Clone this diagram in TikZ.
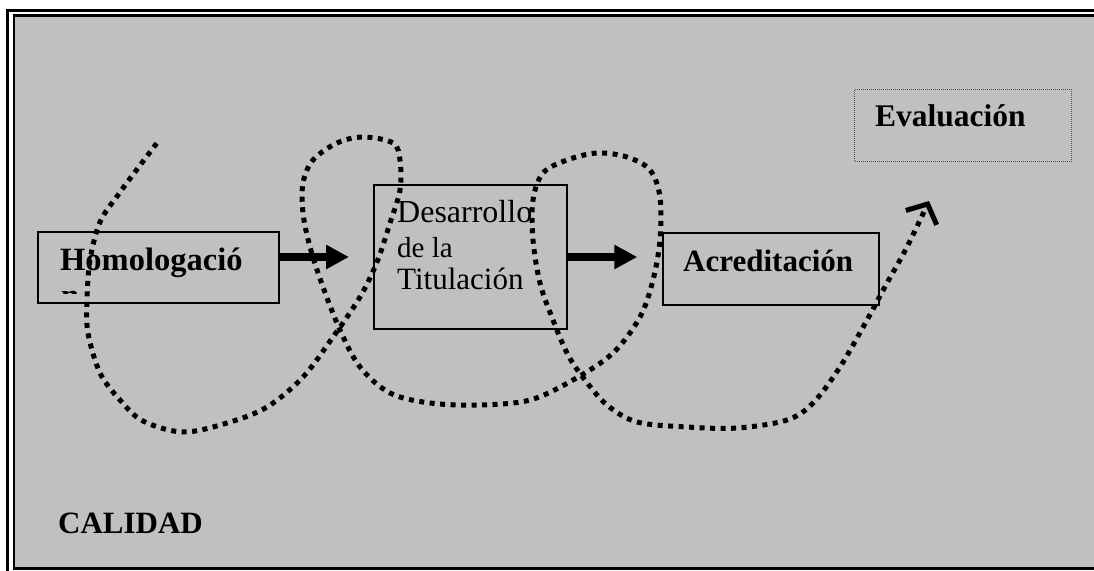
\documentclass[tikz,border=0pt]{standalone}
\usepackage{fontspec}
\setmainfont{Liberation Serif}
\usetikzlibrary{arrows.meta}
\definecolor{panelgray}{HTML}{C0C0C0}
\definecolor{dotframe}{HTML}{505050}
\tikzset{
  stagebox/.style={draw=black, line width=2pt, rectangle, inner sep=0pt},
  evalbox/.style={draw=dotframe, line width=1pt, dash pattern=on 1pt off 1pt, rectangle, inner sep=0pt},
  boldlabel/.style={anchor=base west, inner sep=0pt, font=\fontsize{31}{37}\selectfont\bfseries},
  plainlabel/.style={anchor=base west, inner sep=0pt, font=\fontsize{32}{38}\selectfont},
  flowarrow/.style={line width=8pt, -{Triangle[length=23pt,width=23pt]}},
  qualitypath/.style={line width=5pt, dash pattern=on 5pt off 5.5pt,
    -{Straight Barb[length=15pt,width=34pt,line width=5pt]}}
}
\begin{document}
\begin{tikzpicture}[x=1pt,y=-1pt]
  % page and double frame
  \fill[white] (0,0) rectangle (1094,570);
  \useasboundingbox (0,0) rectangle (1094,570);
  \draw[line width=3pt] (7.5,10) rectangle (1110,590);
  \draw[line width=2.5pt, fill=panelgray] (14,15.5) rectangle (1105,568.5);

  % stage boxes
  \node[stagebox, minimum width=241pt, minimum height=71pt] (h) at (158.8,267.8) {};
  \node[stagebox, minimum width=193pt, minimum height=144pt] (d) at (470.8,257) {};
  \node[stagebox, minimum width=216.6pt, minimum height=71.7pt] (a) at (771,269.2) {};
  \node[evalbox, minimum width=216.7pt, minimum height=71.7pt] (e) at (963.3,125.2) {};

  % labels
  \node[boldlabel, font=\fontsize{32.5}{38}\selectfont\bfseries] (hl) at (60,270) {Homologació};
  \begin{scope}
    \clip (55,288) rectangle (90,293.5);
    \node[boldlabel, font=\fontsize{32.5}{38}\selectfont\bfseries] (hn) at (61,306) {n};
  \end{scope}
  \node[plainlabel] (dl1) at (397,222) {Desarrollo};
  \node[plainlabel, font=\fontsize{29}{35}\selectfont] (dl2) at (397,257) {de la};
  \node[plainlabel, font=\fontsize{31}{37}\selectfont] (dl3) at (397,289) {Titulación};
  \node[boldlabel] (al) at (683,271.7) {Acreditación};
  \node[boldlabel, font=\fontsize{31.5}{37}\selectfont\bfseries] (el) at (875,126.7) {Evaluación};
  \node[boldlabel] (cal) at (58,533) {CALIDAD};

  % flow arrows between stages
  \draw[flowarrow, shorten >=24.3pt] (h.east |- d.west) -- (d.west);
  \draw[flowarrow, shorten >=24.4pt] (d.east) -- (d.east -| a.west);

  % winding quality path
  \draw[qualitypath] plot[smooth, tension=0.55] coordinates {
    (156.7,143.3) (138,168) (118,195) (100,222) (90,260) (87,300) (88,333)
    (100,373) (120,400) (143,421) (183,432) (227,423) (267,407) (303,377)
    (333,337) (360,297) (377,262) (390,223) (400,190) (400,160) (393,143)
    (363,137) (337,143) (313,160) (303,183) (303,213) (310,247) (323,287)
    (340,330) (360,367) (390,393) (430,403) (480,405) (530,400) (573,380)
    (613,353) (640,317) (653,280) (660,240) (660,197) (650,170) (627,157)
    (597,153) (567,160) (543,173) (533,200) (533,240) (540,283) (553,320)
    (568,355) (585,380) (607,405) (637,422) (687,427) (737,428) (787,420)
    (813,403) (840,367) (867,320) (887,283) (907,247) (929,201)};
\end{tikzpicture}
\end{document}
